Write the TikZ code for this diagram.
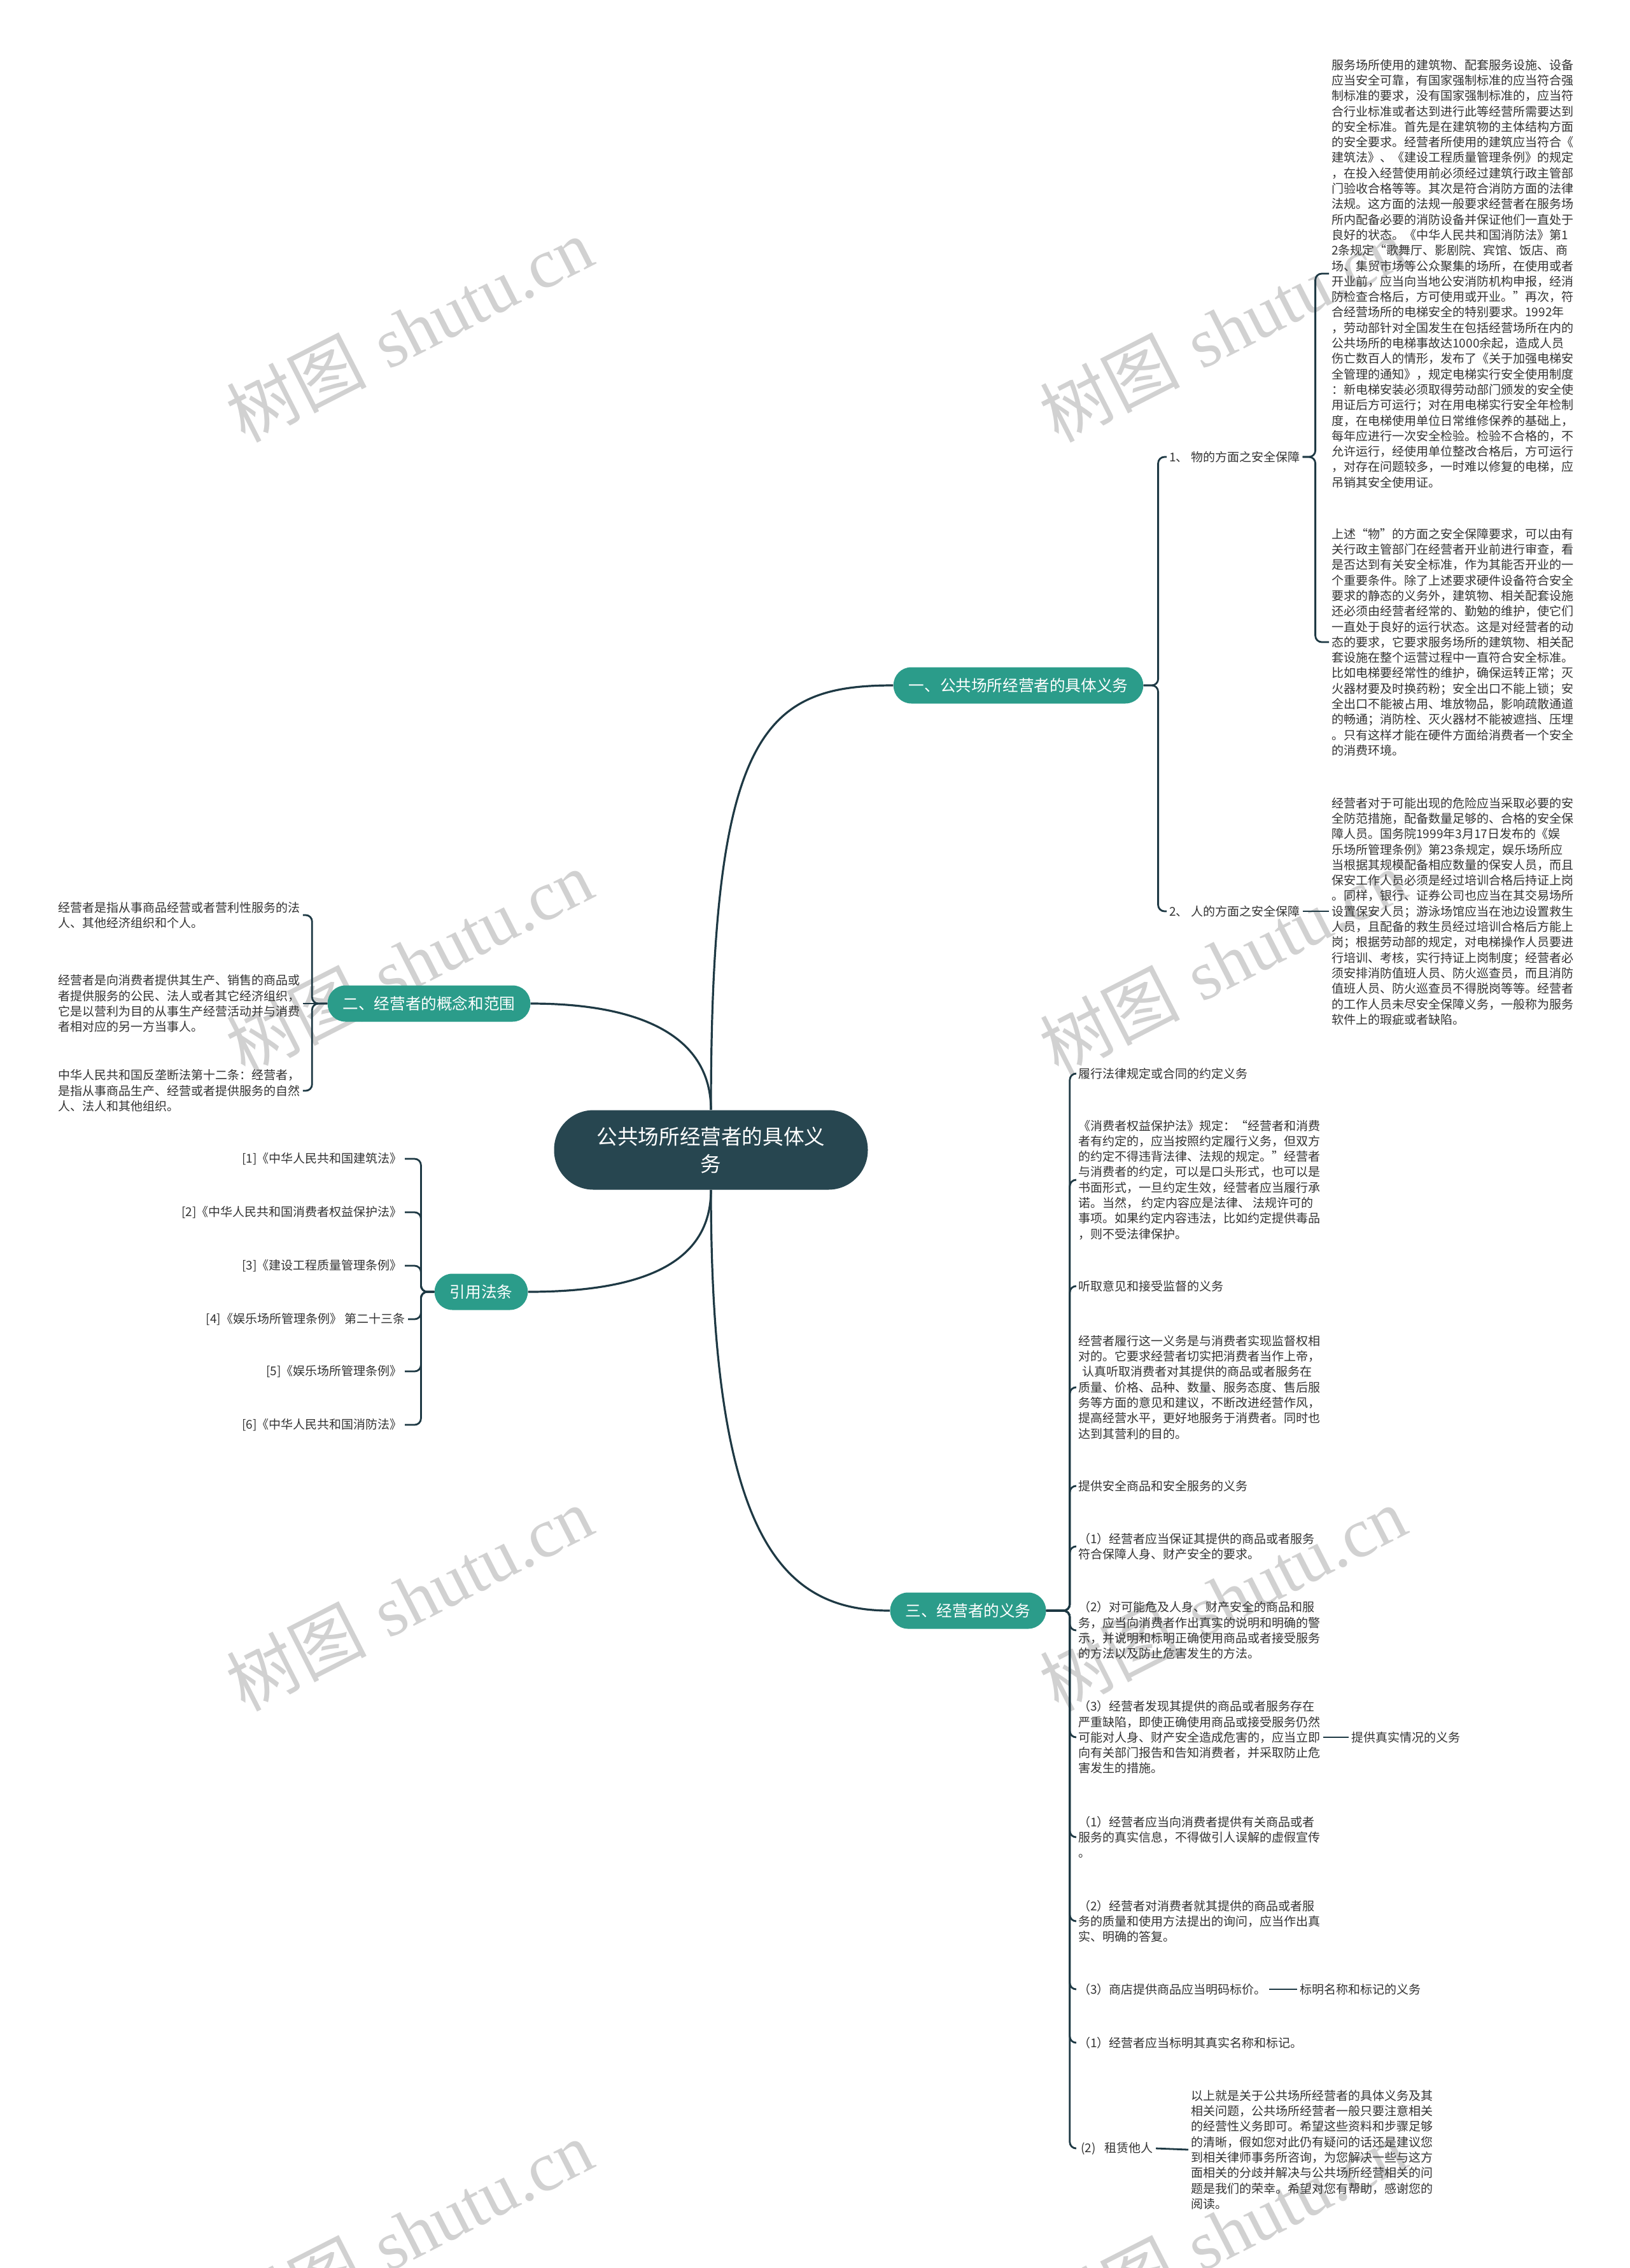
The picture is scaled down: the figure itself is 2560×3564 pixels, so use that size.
\documentclass[tikz,border=0pt]{standalone}
\usepackage{fontspec}
\newfontfamily\cjk{Noto Sans CJK SC}
\newfontfamily\wmfont{Liberation Serif}
\definecolor{rootfill}{HTML}{274650}
\definecolor{branchfill}{HTML}{2B9C8A}
\definecolor{linecol}{HTML}{1E3944}
\definecolor{txt}{HTML}{333333}
\begin{document}
\begin{tikzpicture}[x=0.5pt,y=-0.5pt,
 conn/.style={draw=linecol,line width=1.4pt,rounded corners=5pt},
 curve/.style={draw=linecol,line width=1.6pt},
 rootnode/.style={fill=rootfill,text=white,rounded corners=31pt,minimum width=246.5pt,minimum height=62.5pt,align=center,inner sep=0pt,font=\cjk\fontsize{16.3}{21.5}\selectfont},
 branchnode/.style={fill=branchfill,text=white,rounded corners=14pt,minimum height=28.5pt,inner xsep=12pt,inner ysep=0pt,font=\cjk\fontsize{12.3}{14}\selectfont},
 leaf/.style={anchor=west,align=left,inner xsep=2pt,inner ysep=0pt,text=txt,font=\cjk\fontsize{9.5}{12.15}\selectfont},
 leafr/.style={leaf,anchor=east,align=right},
 wm/.style={text=black!18,rotate=27,inner sep=0pt,font=\fontsize{55}{60}\selectfont}
]
\useasboundingbox (0,0) rectangle (2560,3564);
\fill[white] (0,0) rectangle (2560,3564);

% watermarks
\begin{scope}
\clip (0,0) rectangle (2560,3564);
\foreach \wx/\wy/\wn in {643/518/1,1921/518/2,643/1512/3,1921/1512/4,643/2512/5,1921/2512/6,643/3508/7,1921/3508/8}{
  \node[wm] (wm\wn) at (\wx,\wy) {{\cjk 树图} {\wmfont shutu.cn}};
}
\end{scope}

% root and branches
\node[rootnode] (root) at (1117,1807) {公共场所经营者的具体义\\务};
\node[branchnode] (b1) at (1600,1077) {一、公共场所经营者的具体义务};
\node[branchnode] (b2) at (674,1577) {二、经营者的概念和范围};
\node[branchnode] (b3) at (756,2030) {引用法条};
\node[branchnode] (b4) at (1521,2531) {三、经营者的义务};

\draw[curve] (root.north) .. controls (1117,1150) and (1200,1077) .. (b1.west);
\draw[curve] (root.north) .. controls (1117,1630) and (1010,1577) .. (b2.east);
\draw[curve] (root.south) .. controls (1117,1985) and (1010,2030) .. (b3.east);
\draw[curve] (root.south) .. controls (1117,2420) and (1230,2531) .. (b4.west);

% branch 1
\node[leaf] (s1) at (1833,718) {1、 物的方面之安全保障};
\node[leaf] (s2) at (1833,1432) {2、 人的方面之安全保障};
\node[leaf] (ta) at (2088,430) {服务场所使用的建筑物、配套服务设施、设备\\应当安全可靠，有国家强制标准的应当符合强\\制标准的要求，没有国家强制标准的，应当符\\合行业标准或者达到进行此等经营所需要达到\\的安全标准。首先是在建筑物的主体结构方面\\的安全要求。经营者所使用的建筑应当符合《\\建筑法》、《建设工程质量管理条例》的规定\\，在投入经营使用前必须经过建筑行政主管部\\门验收合格等等。其次是符合消防方面的法律\\法规。这方面的法规一般要求经营者在服务场\\所内配备必要的消防设备并保证他们一直处于\\良好的状态。《中华人民共和国消防法》第1\\2条规定“歌舞厅、影剧院、宾馆、饭店、商\\场、集贸市场等公众聚集的场所，在使用或者\\开业前，应当向当地公安消防机构申报，经消\\防检查合格后，方可使用或开业。”再次，符\\合经营场所的电梯安全的特别要求。1992年\\，劳动部针对全国发生在包括经营场所在内的\\公共场所的电梯事故达1000余起，造成人员\\伤亡数百人的情形，发布了《关于加强电梯安\\全管理的通知》，规定电梯实行安全使用制度\\：新电梯安装必须取得劳动部门颁发的安全使\\用证后方可运行；对在用电梯实行安全年检制\\度，在电梯使用单位日常维修保养的基础上，\\每年应进行一次安全检验。检验不合格的，不\\允许运行，经使用单位整改合格后，方可运行\\，对存在问题较多，一时难以修复的电梯，应\\吊销其安全使用证。};
\node[leaf] (tb) at (2088,1009) {上述“物”的方面之安全保障要求，可以由有\\关行政主管部门在经营者开业前进行审查，看\\是否达到有关安全标准，作为其能否开业的一\\个重要条件。除了上述要求硬件设备符合安全\\要求的静态的义务外，建筑物、相关配套设施\\还必须由经营者经常的、勤勉的维护，使它们\\一直处于良好的运行状态。这是对经营者的动\\态的要求，它要求服务场所的建筑物、相关配\\套设施在整个运营过程中一直符合安全标准。\\比如电梯要经常性的维护，确保运转正常；灭\\火器材要及时换药粉；安全出口不能上锁；安\\全出口不能被占用、堆放物品，影响疏散通道\\的畅通；消防栓、灭火器材不能被遮挡、压埋\\。只有这样才能在硬件方面给消费者一个安全\\的消费环境。};
\node[leaf] (tc) at (2088,1432) {经营者对于可能出现的危险应当采取必要的安\\全防范措施，配备数量足够的、合格的安全保\\障人员。国务院1999年3月17日发布的《娱\\乐场所管理条例》第23条规定，娱乐场所应\\当根据其规模配备相应数量的保安人员，而且\\保安工作人员必须是经过培训合格后持证上岗\\。同样，银行、证券公司也应当在其交易场所\\设置保安人员；游泳场馆应当在池边设置救生\\人员，且配备的救生员经过培训合格后方能上\\岗；根据劳动部的规定，对电梯操作人员要进\\行培训、考核，实行持证上岗制度；经营者必\\须安排消防值班人员、防火巡查员，而且消防\\值班人员、防火巡查员不得脱岗等等。经营者\\的工作人员未尽安全保障义务，一般称为服务\\软件上的瑕疵或者缺陷。};

\draw[conn] (b1.east) -- ++(23,0) |- (s1.west);
\draw[conn] (b1.east) -- ++(23,0) |- (s2.west);
\draw[conn] (s1.east) -- ++(20,0) |- (ta.west);
\draw[conn] (s1.east) -- ++(20,0) |- (tb.west);
\draw[conn] (s2.east) -- (tc.west);

% branch 2
\node[leaf] (l1) at (87,1438) {经营者是指从事商品经营或者营利性服务的法\\人、其他经济组织和个人。};
\node[leaf] (l2) at (87,1577) {经营者是向消费者提供其生产、销售的商品或\\者提供服务的公民、法人或者其它经济组织，\\它是以营利为目的从事生产经营活动并与消费\\者相对应的另一方当事人。};
\node[leaf] (l3) at (87,1714) {中华人民共和国反垄断法第十二条：经营者，\\是指从事商品生产、经营或者提供服务的自然\\人、法人和其他组织。};
\draw[conn] (b2.west) -- ++(-24,0) |- (l1.east);
\draw[conn] (b2.west) -- (l2.east);
\draw[conn] (b2.west) -- ++(-24,0) |- (l3.east);

% branch 3
\node[leafr] (r1) at (636,1821) {[1]《中华人民共和国建筑法》};
\node[leafr] (r2) at (636,1905) {[2]《中华人民共和国消费者权益保护法》};
\node[leafr] (r3) at (636,1989) {[3]《建设工程质量管理条例》};
\node[leafr] (r4) at (641,2073) {[4]《娱乐场所管理条例》 第二十三条};
\node[leafr] (r5) at (636,2155) {[5]《娱乐场所管理条例》};
\node[leafr] (r6) at (636,2239) {[6]《中华人民共和国消防法》};
\foreach \r in {r1,r2,r3,r4,r5,r6}{
  \draw[conn] (b3.west) -- ++(-21,0) |- (\r.east);
}

% branch 4
\node[leaf] (t1) at (1690,1687) {履行法律规定或合同的约定义务};
\node[leaf] (t2) at (1690,1854) {《消费者权益保护法》规定：“经营者和消费\\者有约定的，应当按照约定履行义务，但双方\\的约定不得违背法律、法规的规定。”经营者\\与消费者的约定，可以是口头形式，也可以是\\书面形式，一旦约定生效，经营者应当履行承\\诺。当然， 约定内容应是法律、 法规许可的\\事项。如果约定内容违法，比如约定提供毒品\\，则不受法律保护。};
\node[leaf] (t3) at (1690,2021) {听取意见和接受监督的义务};
\node[leaf] (t4) at (1690,2180) {经营者履行这一义务是与消费者实现监督权相\\对的。它要求经营者切实把消费者当作上帝，\\\hspace*{3pt}认真听取消费者对其提供的商品或者服务在\\质量、价格、品种、数量、服务态度、售后服\\务等方面的意见和建议，不断改进经营作风，\\提高经营水平，更好地服务于消费者。同时也\\达到其营利的目的。};
\node[leaf] (t5) at (1690,2335) {提供安全商品和安全服务的义务};
\node[leaf] (t6) at (1690,2430) {（1）经营者应当保证其提供的商品或者服务\\符合保障人身、财产安全的要求。};
\node[leaf] (t7) at (1690,2562) {（2）对可能危及人身、财产安全的商品和服\\务，应当向消费者作出真实的说明和明确的警\\示，并说明和标明正确使用商品或者接受服务\\的方法以及防止危害发生的方法。};
\node[leaf] (t8) at (1690,2730) {（3）经营者发现其提供的商品或者服务存在\\严重缺陷，即使正确使用商品或接受服务仍然\\可能对人身、财产安全造成危害的，应当立即\\向有关部门报告和告知消费者，并采取防止危\\害发生的措施。};
\node[leaf] (t9) at (1690,2887) {（1）经营者应当向消费者提供有关商品或者\\服务的真实信息，不得做引人误解的虚假宣传\\。};
\node[leaf] (t10) at (1690,3019) {（2）经营者对消费者就其提供的商品或者服\\务的质量和使用方法提出的询问，应当作出真\\实、明确的答复。};
\node[leaf] (t11) at (1690,3126) {（3）商店提供商品应当明码标价。};
\node[leaf] (t12) at (1690,3210) {（1）经营者应当标明其真实名称和标记。};
\node[leaf] (t13) at (1690,3376) {\hspace*{2pt}(2)\hspace*{7pt}租赁他人};
\foreach \t in {t1,t2,t3,t4,t5,t6,t7,t8,t9,t10,t11,t12,t13}{
  \draw[conn] (b4.east) -- ++(37,0) |- (\t.west);
}
\node[leaf] (d1) at (2119,2730) {提供真实情况的义务};
\node[leaf] (d2) at (2038,3126) {标明名称和标记的义务};
\node[leaf] (d3) at (1867,3378) {以上就是关于公共场所经营者的具体义务及其\\相关问题，公共场所经营者一般只要注意相关\\的经营性义务即可。希望这些资料和步骤足够\\的清晰，假如您对此仍有疑问的话还是建议您\\到相关律师事务所咨询，为您解决一些与这方\\面相关的分歧并解决与公共场所经营相关的问\\题是我们的荣幸。希望对您有帮助，感谢您的\\阅读。};
\draw[conn] (t8.east) -- (d1.west);
\draw[conn] (t11.east) -- (d2.west);
\draw[conn] (t13.east) -- (d3.west);
\end{tikzpicture}
\end{document}
